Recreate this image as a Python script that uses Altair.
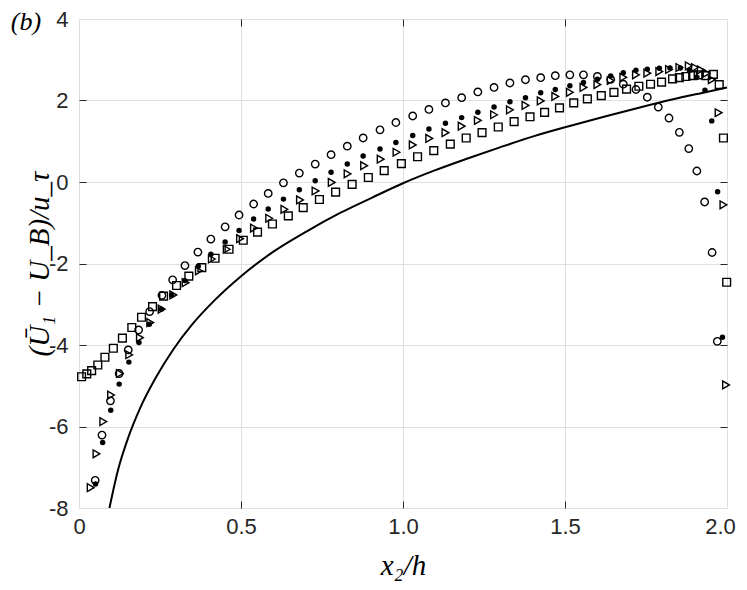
import altair as alt
import pandas as pd

# ---- data ----
circ_x = [0.050, 0.071, 0.097, 0.124, 0.152, 0.184, 0.218, 0.256, 0.289, 0.327,
          0.367, 0.407, 0.451, 0.494, 0.539, 0.584, 0.631, 0.680, 0.729, 0.778,
          0.828, 0.877, 0.929, 0.978, 1.030, 1.080, 1.131, 1.181, 1.231, 1.281,
          1.330, 1.378, 1.425, 1.470, 1.515, 1.557, 1.600, 1.641, 1.680, 1.719,
          1.754, 1.788, 1.821, 1.853, 1.882, 1.907, 1.931, 1.954, 1.970]
circ_y = [-7.32, -6.21, -5.37, -4.70, -4.12, -3.63, -3.18, -2.78, -2.40, -2.05,
          -1.72, -1.40, -1.10, -0.81, -0.54, -0.28, -0.02, 0.22, 0.44, 0.67,
          0.88, 1.08, 1.28, 1.46, 1.62, 1.78, 1.94, 2.07, 2.21, 2.32,
          2.43, 2.51, 2.56, 2.61, 2.63, 2.63, 2.59, 2.52, 2.40, 2.27,
          2.08, 1.84, 1.57, 1.22, 0.82, 0.27, -0.49, -1.73, -3.91]

dot_x = [0.051, 0.073, 0.098, 0.124, 0.154, 0.185, 0.217, 0.254, 0.286, 0.327,
         0.368, 0.407, 0.451, 0.494, 0.539, 0.584, 0.631, 0.680, 0.729, 0.778,
         0.828, 0.877, 0.929, 0.978, 1.030, 1.080, 1.131, 1.181, 1.231, 1.281,
         1.330, 1.378, 1.425, 1.470, 1.515, 1.557, 1.600, 1.641, 1.680, 1.719,
         1.754, 1.791, 1.824, 1.856, 1.884, 1.907, 1.932, 1.953, 1.971, 1.986]
dot_y = [-7.41, -6.39, -5.60, -4.96, -4.42, -3.94, -3.49, -3.12, -2.77, -2.42,
         -2.07, -1.77, -1.47, -1.19, -0.91, -0.66, -0.42, -0.19, 0.03, 0.24,
         0.44, 0.64, 0.81, 0.97, 1.14, 1.30, 1.44, 1.58, 1.71, 1.84,
         1.97, 2.07, 2.19, 2.27, 2.36, 2.44, 2.52, 2.60, 2.68, 2.74,
         2.77, 2.79, 2.80, 2.80, 2.74, 2.57, 2.25, 1.50, -0.24, -3.81]

tri_x = [0.036, 0.054, 0.075, 0.099, 0.126, 0.155, 0.188, 0.220, 0.255, 0.291,
         0.329, 0.370, 0.410, 0.456, 0.497, 0.540, 0.587, 0.634, 0.682, 0.730,
         0.780, 0.829, 0.880, 0.931, 0.980, 1.030, 1.081, 1.131, 1.181, 1.231,
         1.281, 1.330, 1.378, 1.425, 1.470, 1.515, 1.557, 1.600, 1.641, 1.680,
         1.719, 1.754, 1.791, 1.821, 1.853, 1.882, 1.901, 1.919, 1.937, 1.953,
         1.974, 1.989, 1.997]
tri_y = [-7.50, -6.67, -5.88, -5.23, -4.70, -4.24, -3.82, -3.45, -3.12, -2.77,
         -2.47, -2.18, -1.89, -1.65, -1.39, -1.13, -0.89, -0.67, -0.44, -0.22,
         -0.01, 0.20, 0.40, 0.56, 0.73, 0.91, 1.07, 1.21, 1.37, 1.51,
         1.65, 1.77, 1.88, 1.99, 2.10, 2.20, 2.32, 2.39, 2.49, 2.57,
         2.63, 2.67, 2.71, 2.76, 2.81, 2.85, 2.81, 2.75, 2.67, 2.51,
         1.70, -0.56, -4.98]

sq_x = [0.008, 0.024, 0.039, 0.058, 0.080, 0.106, 0.134, 0.163, 0.193, 0.227,
        0.261, 0.301, 0.339, 0.379, 0.420, 0.463, 0.507, 0.551, 0.597, 0.646,
        0.692, 0.742, 0.792, 0.843, 0.893, 0.942, 0.995, 1.045, 1.095, 1.146,
        1.195, 1.244, 1.294, 1.343, 1.392, 1.437, 1.483, 1.527, 1.569, 1.612,
        1.651, 1.690, 1.728, 1.764, 1.798, 1.832, 1.853, 1.873, 1.894, 1.911,
        1.935, 1.958, 1.976, 1.989, 1.999]
sq_y = [-4.78, -4.71, -4.63, -4.49, -4.30, -4.08, -3.83, -3.57, -3.32, -3.06,
        -2.80, -2.54, -2.31, -2.10, -1.87, -1.65, -1.43, -1.23, -1.03, -0.83,
        -0.63, -0.43, -0.25, -0.06, 0.11, 0.28, 0.45, 0.62, 0.77, 0.93,
        1.08, 1.21, 1.35, 1.48, 1.60, 1.71, 1.82, 1.94, 2.04, 2.12,
        2.20, 2.28, 2.35, 2.40, 2.45, 2.53, 2.56, 2.59, 2.61, 2.63,
        2.61, 2.64, 2.39, 1.08, -2.46]

curve_x = [0.094, 0.121, 0.152, 0.188, 0.235, 0.291, 0.350, 0.415, 0.502, 0.600,
           0.703, 0.806, 0.908, 1.000, 1.100, 1.197, 1.299, 1.402, 1.526, 1.629,
           1.731, 1.834, 1.937, 2.000]
curve_y = [-8.00, -7.05, -6.27, -5.56, -4.83, -4.11, -3.49, -2.93, -2.30, -1.71,
           -1.21, -0.76, -0.37, -0.03, 0.29, 0.57, 0.85, 1.12, 1.40, 1.62,
           1.83, 2.03, 2.21, 2.32]

x_ticks = [0, 0.5, 1.0, 1.5, 2.0]
y_ticks = [-8, -6, -4, -2, 0, 2, 4]
x_inner_ticks = [0.5, 1.0, 1.5]
y_inner_ticks = [-6, -4, -2, 0, 2]
x_title = "x₂/h"
y_title = "(Ū₁ − U_B)/u_τ"
panel_label = ["(b)"]

# ---- layout ----
W, H = 648, 489
INK = "#262626"
GRID = "#dfdfdf"


def frame(xs, ys):
    return pd.DataFrame({"x": xs, "y": ys})


xscale = alt.Scale(domain=[0, 2], nice=False, zero=False)
yscale = alt.Scale(domain=[-8, 4], nice=False, zero=False)

x_main = alt.Axis(
    orient="bottom", values=x_ticks,
    labelExpr="datum.value == 0 ? '0' : format(datum.value, '.1f')",
    labelFont="Liberation Sans", labelFontSize=22, labelColor=INK,
    labelPadding=8, labelFlush=False, labelOverlap=False, labelBound=False,
    labelOffset={"condition": {"test": "datum.value == 2", "value": -7}, "value": 0},
    ticks=False, tickSize=0, domain=False,
    grid=True, gridColor=GRID, gridWidth=1,
    title=x_title, titleFont="Liberation Serif", titleFontStyle="italic",
    titleFontWeight="normal", titleFontSize=29, titleColor="#000000",
    titleX=W / 2, titleY=57, titleBaseline="middle", titleAlign="center",
)
y_main = alt.Axis(
    orient="left", values=y_ticks,
    labelExpr="datum.value + ''",
    labelFont="Liberation Sans", labelFontSize=22, labelColor=INK,
    labelPadding=11, labelFlush=False, labelOverlap=False, labelBound=False,
    ticks=False, tickSize=0, domain=False,
    grid=True, gridColor=GRID, gridWidth=1,
    title=y_title, titleFont="Liberation Serif", titleFontStyle="italic",
    titleFontWeight="normal", titleFontSize=29, titleColor="#000000",
    titleX=-40, titleY=H / 2, titleBaseline="middle", titleAlign="center",
    titleAngle=270,
)


def tick_axis(orient, values, offset):
    # inward-pointing ticks on the box edges (MATLAB style)
    return alt.Axis(
        orient=orient, values=values, offset=offset,
        labels=False, domain=False, grid=False, ticks=True,
        tickSize=7, tickColor=INK, tickWidth=1, title="", zindex=1,
    )


curve = alt.Chart(frame(curve_x, curve_y)).mark_line(
    color="#000000", strokeWidth=2, interpolate="monotone", clip=True
).encode(
    x=alt.X("x:Q", scale=xscale, axis=x_main),
    y=alt.Y("y:Q", scale=yscale, axis=y_main),
)

circles = alt.Chart(frame(circ_x, circ_y)).mark_point(
    shape="circle", filled=False, color="#000000", size=55, strokeWidth=1.4,
    opacity=1,
).encode(
    x=alt.X("x:Q", scale=xscale, axis=tick_axis("top", x_inner_ticks, -H)),
    y=alt.Y("y:Q", scale=yscale, axis=tick_axis("right", y_inner_ticks, -W)),
)

dots = alt.Chart(frame(dot_x, dot_y)).mark_point(
    shape="circle", filled=True, color="#000000", size=30, opacity=1
).encode(
    x=alt.X("x:Q", scale=xscale, axis=tick_axis("bottom", x_inner_ticks, -H)),
    y=alt.Y("y:Q", scale=yscale, axis=tick_axis("left", y_inner_ticks, -W)),
)

tris = alt.Chart(frame(tri_x, tri_y)).mark_point(
    shape="triangle-right", filled=False, color="#000000", size=60, strokeWidth=1.4,
    opacity=1,
).encode(
    x=alt.X("x:Q", scale=xscale, axis=None),
    y=alt.Y("y:Q", scale=yscale, axis=None),
)

squares = alt.Chart(frame(sq_x, sq_y)).mark_point(
    shape="square", filled=False, color="#000000", size=60, strokeWidth=1.4,
    opacity=1,
).encode(
    x=alt.X("x:Q", scale=xscale, axis=None),
    y=alt.Y("y:Q", scale=yscale, axis=None),
)

label = alt.Chart(pd.DataFrame({"t": panel_label})).mark_text(
    font="Liberation Serif", fontStyle="italic", fontSize=26, color="#000000",
    align="center", baseline="top",
).encode(
    x=alt.value(-53), y=alt.value(-10), text="t:N"
)

chart = alt.layer(curve, circles, dots, tris, squares, label).resolve_axis(
    x="independent", y="independent"
).properties(
    width=W, height=H,
    autosize=alt.AutoSizeParams(type="none"),
    padding={"left": 71, "top": 11, "right": 12, "bottom": 74},
).configure_view(
    stroke=INK, strokeWidth=1
).configure(background="#ffffff")

chart.save("out.html", embed_options={"renderer": "svg", "actions": False})
